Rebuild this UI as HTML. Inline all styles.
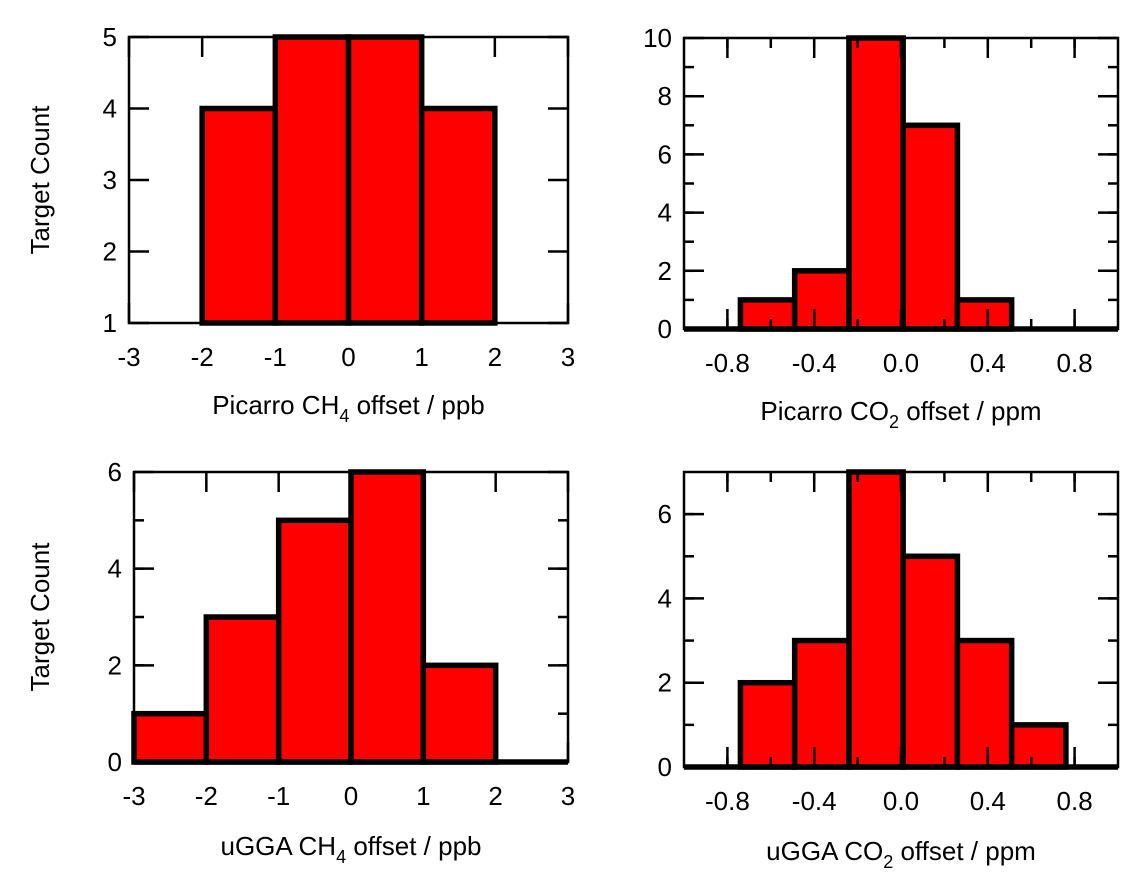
<!DOCTYPE html>
<html><head><meta charset="utf-8"><style>
body{margin:0;background:#fff;}
svg{display:block;font-family:"Liberation Sans",Arial,sans-serif;}
</style></head><body>
<svg id="c" width="1138" height="891" viewBox="0 0 1138 891"></svg>
<script>
// Panel data
const p1Edges = [-2, -1, 0, 1, 2];
const p1Counts = [4, 5, 5, 4];
const p1XTicks = ["-3","-2","-1","0","1","2","3"];
const p1YTicks = ["1","2","3","4","5"];
const p2Edges = [-0.74, -0.49, -0.24, 0.01, 0.26, 0.51];
const p2Counts = [1, 2, 10, 7, 1];
const p2XTicks = ["-0.8","-0.4","0.0","0.4","0.8"];
const p2YTicks = ["0","2","4","6","8","10"];
const p3Edges = [-3, -2, -1, 0, 1, 2];
const p3Counts = [1, 3, 5, 6, 2];
const p3XTicks = ["-3","-2","-1","0","1","2","3"];
const p3YTicks = ["0","2","4","6"];
const p4Edges = [-0.74, -0.49, -0.24, 0.01, 0.26, 0.51, 0.76];
const p4Counts = [2, 3, 7, 5, 3, 1];
const p4XTicks = ["-0.8","-0.4","0.0","0.4","0.8"];
const p4YTicks = ["0","2","4","6"];

const NS="http://www.w3.org/2000/svg";
const svg=document.getElementById('c');
function mk(tag,attrs,parent){const e=document.createElementNS(NS,tag);for(const k in attrs)e.setAttribute(k,attrs[k]);(parent||svg).appendChild(e);return e;}

function panel(name,box,xr,yr,edges,counts,xt,yt,xMinor,yMinor,baseline,title,sub,titleTail,titleY,yTitle){
  const g=mk('g',{});
  
  
  const X=v=>box.l+(v-xr[0])/(xr[1]-xr[0])*(box.r-box.l);
  const Y=v=>box.b-(v-yr[0])/(yr[1]-yr[0])*(box.b-box.t);
  mk('rect',{x:box.l,y:box.t,width:box.r-box.l,height:box.b-box.t,fill:'#fff',stroke:'#000','stroke-width':2.5},g);
  for(let i=0;i<counts.length;i++){
    const x0=X(edges[i]),x1=X(edges[i+1]),y=Y(counts[i]);
    const r=mk('rect',{x:x0,y:y,width:x1-x0,height:box.b-y,fill:'#ff0000',stroke:'#000','stroke-width':5.5},g);
    
    
  }
  if(baseline){mk('line',{x1:box.l,x2:box.r,y1:box.b,y2:box.b,stroke:'#000','stroke-width':5.5},g);}
  xt.forEach(t=>{const v=parseFloat(t),x=X(v);
    mk('line',{x1:x,x2:x,y1:box.b,y2:box.b-20,stroke:'#000','stroke-width':2.5},g);
    mk('line',{x1:x,x2:x,y1:box.t,y2:box.t+20,stroke:'#000','stroke-width':2.5},g);
    const tx=mk('text',{x:x,y:box.b+43,'text-anchor':'middle','font-size':26},g);tx.textContent=t;
    
    
  });
  if(xMinor){for(let v=xr[0]+xMinor;v<xr[1]-1e-9;v+=xMinor){const x=X(v);
    mk('line',{x1:x,x2:x,y1:box.b,y2:box.b-10,stroke:'#000','stroke-width':2.5},g);
    mk('line',{x1:x,x2:x,y1:box.t,y2:box.t+10,stroke:'#000','stroke-width':2.5},g);}}
  yt.forEach(t=>{const v=parseFloat(t),y=Y(v);
    mk('line',{x1:box.l,x2:box.l+20,y1:y,y2:y,stroke:'#000','stroke-width':2.5},g);
    mk('line',{x1:box.r,x2:box.r-20,y1:y,y2:y,stroke:'#000','stroke-width':2.5},g);
    const tx=mk('text',{x:box.l-12,y:y+9,'text-anchor':'end','font-size':26},g);tx.textContent=t;
    
    
  });
  if(yMinor){for(let v=yr[0]+yMinor;v<yr[1]-1e-9;v+=yMinor){const y=Y(v);
    mk('line',{x1:box.l,x2:box.l+10,y1:y,y2:y,stroke:'#000','stroke-width':2.5},g);
    mk('line',{x1:box.r,x2:box.r-10,y1:y,y2:y,stroke:'#000','stroke-width':2.5},g);}}
  const tt=mk('text',{x:(box.l+box.r)/2,y:titleY,'text-anchor':'middle','font-size':26},g);
  
  
  tt.innerHTML=title+'<tspan dy="8" font-size="18">'+sub+'</tspan><tspan dy="-8"> '+titleTail+'</tspan>';
  if(yTitle){const yt2=mk('text',{x:0,y:0,'text-anchor':'middle','font-size':26,transform:'translate(49,'+(box.t+box.b)/2+') rotate(-90)'},g);
    yt2.textContent='Target Count';
    
    }
}
panel('panel-picarro-ch4',{l:129,r:568,t:37,b:323},[-3,3],[1,5],p1Edges,p1Counts,p1XTicks,p1YTicks,0,0,false,'Picarro CH','4','offset / ppb',414,true);
panel('panel-picarro-co2',{l:684,r:1118,t:38,b:329},[-1,1],[0,10],p2Edges,p2Counts,p2XTicks,p2YTicks,0.2,1,true,'Picarro CO','2','offset / ppm',420,false);
panel('panel-ugga-ch4',{l:134,r:568,t:472,b:762},[-3,3],[0,6],p3Edges,p3Counts,p3XTicks,p3YTicks,0,1,true,'uGGA CH','4','offset / ppb',855,true);
panel('panel-ugga-co2',{l:684,r:1118,t:472,b:767},[-1,1],[0,7],p4Edges,p4Counts,p4XTicks,p4YTicks,0.2,1,true,'uGGA CO','2','offset / ppm',860,false);
</script>
</body></html>
